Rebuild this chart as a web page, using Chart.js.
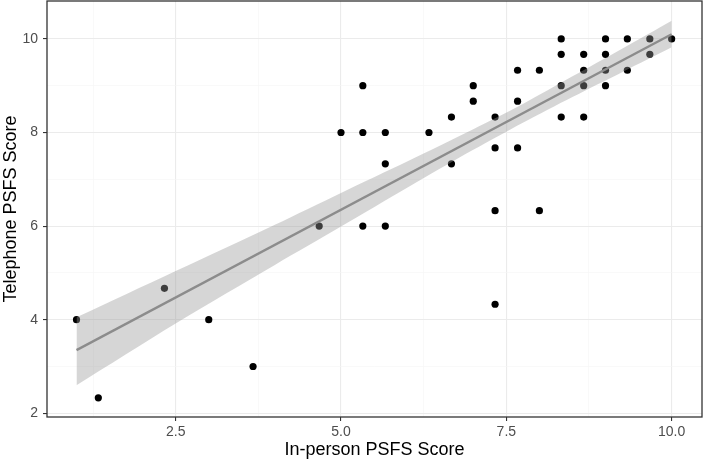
<!DOCTYPE html>
<html>
<head>
<meta charset="utf-8">
<script src="https://cdn.jsdelivr.net/npm/chart.js@4.4.0/dist/chart.umd.min.js"></script>
<style>
  html, body { margin: 0; padding: 0; background: #fff; }
  #wrap { width: 703px; height: 461px; position: relative; }
</style>
</head>
<body>
<div id="wrap"><canvas id="psfs"></canvas></div>
<script>
// in-person vs telephone PSFS scores
const inPerson = [1, 1.33, 2.33, 3, 3.67, 4.67, 5, 5.33, 5.33, 5.33, 5.67, 5.67, 5.67, 6.33, 6.67, 6.67,
  7, 7, 7.33, 7.33, 7.33, 7.33, 7.67, 7.67, 7.67, 8, 8, 8.33, 8.33, 8.33, 8.33,
  8.67, 8.67, 8.67, 8.67, 9, 9, 9, 9, 9.33, 9.33, 9.67, 9.67, 10];
const telephone = [4, 2.33, 4.67, 4, 3, 6, 8, 9, 8, 6, 8, 7.33, 6, 8, 8.33, 7.33,
  9, 8.67, 8.33, 7.67, 6.33, 4.33, 9.33, 8.67, 7.67, 9.33, 6.33, 10, 9.67, 9, 8.33,
  9.67, 9.33, 9, 8.33, 10, 9.67, 9.33, 9, 10, 9.33, 10, 9.67, 10];

// fitted line and its confidence band
const fitX = [1, 10];
const fitY = [3.35, 10.1];
const bandX = [1, 2.5, 4, 5, 6, 7, 7.75, 8.5, 9.25, 10];
const bandLow = [2.60, 3.92, 5.17, 5.99, 6.82, 7.63, 8.21, 8.76, 9.29, 9.82];
const bandHigh = [4.05, 5.04, 6.03, 6.71, 7.38, 8.07, 8.61, 9.20, 9.79, 10.39];

// axes
const xMajor = [2.5, 5, 7.5, 10];
const xMajorLabels = ['2.5', '5.0', '7.5', '10.0'];
const xMinor = [1.25, 3.75, 6.25, 8.75];
const yMajor = [2, 4, 6, 8, 10];
const yMajorLabels = ['2', '4', '6', '8', '10'];
const yMinor = [3, 5, 7, 9];

const xy = (xs, ys) => xs.map((x, i) => ({ x: x, y: ys[i] }));

function gridTicks(major, minor) {
  return major.concat(minor).sort((a, b) => a - b).map(v => ({ value: v }));
}

function labelFor(major, labels) {
  return function (value) {
    const i = major.indexOf(value);
    return i < 0 ? '' : labels[i];
  };
}

function gridOpts(major) {
  return {
    color: ctx => major.includes(ctx.tick.value) ? '#ebebeb' : '#f5f5f5',
    lineWidth: ctx => major.includes(ctx.tick.value) ? 1.1 : 0.6,
    tickColor: ctx => major.includes(ctx.tick.value) ? '#333333' : 'rgba(0,0,0,0)',
    tickLength: 4,
    tickWidth: 1.1
  };
}

// no auto padding from the tick labels, the panel fills the canvas like ggplot
function fixAxis(size) {
  return s => {
    if (s.isHorizontal()) s.height = size; else s.width = size;
    s.paddingTop = 0; s.paddingBottom = 0; s.paddingLeft = 0; s.paddingRight = 0;
  };
}

// ggplot style panel border
const panelBorder = {
  id: 'panelBorder',
  afterDraw(chart) {
    const a = chart.chartArea;
    const c = chart.ctx;
    c.save();
    c.strokeStyle = '#333333';
    c.lineWidth = 1.3;
    c.strokeRect(a.left, a.top, a.right - a.left, a.bottom - a.top);
    c.restore();
  }
};

Chart.defaults.font.family = '"Liberation Sans", Arial, sans-serif';

new Chart(document.getElementById('psfs'), {
  type: 'scatter',
  data: {
    datasets: [
      {
        label: 'fit',
        data: xy(fitX, fitY),
        showLine: true,
        borderColor: '#8c8c8c',
        borderWidth: 2.3,
        pointRadius: 0,
        order: 0
      },
      {
        label: 'upper',
        data: xy(bandX, bandHigh),
        showLine: true,
        borderWidth: 0,
        borderColor: 'rgba(0,0,0,0)',
        pointRadius: 0,
        fill: '+1',
        backgroundColor: 'rgba(153,153,153,0.4)',
        tension: 0.3,
        order: 1
      },
      {
        label: 'lower',
        data: xy(bandX, bandLow),
        showLine: true,
        borderWidth: 0,
        borderColor: 'rgba(0,0,0,0)',
        pointRadius: 0,
        fill: false,
        tension: 0.3,
        order: 2
      },
      {
        label: 'scores',
        data: xy(inPerson, telephone),
        pointRadius: 3.6,
        pointBackgroundColor: '#000',
        pointBorderWidth: 0,
        order: 3
      }
    ]
  },
  options: {
    responsive: true,
    maintainAspectRatio: false,
    animation: false,
    layout: { autoPadding: false, padding: { top: 1, right: 1, left: 0, bottom: 0 } },
    plugins: { legend: { display: false }, tooltip: { enabled: false } },
    scales: {
      x: {
        type: 'linear',
        min: 0.554,
        max: 10.459,
        afterBuildTicks: s => { s.ticks = gridTicks(xMajor, xMinor); },
        afterFit: fixAxis(44),
        grid: gridOpts(xMajor),
        border: { display: false },
        ticks: {
          callback: labelFor(xMajor, xMajorLabels),
          color: '#4d4d4d',
          font: { size: 14 },
          padding: 3,
          maxRotation: 0,
          autoSkip: false
        },
        title: {
          display: true,
          text: 'In-person PSFS Score',
          color: '#000',
          font: { size: 18 },
          padding: { top: 0, bottom: 0 }
        }
      },
      y: {
        type: 'linear',
        min: 1.921,
        max: 10.81,
        afterBuildTicks: s => { s.ticks = gridTicks(yMajor, yMinor); },
        afterFit: fixAxis(47),
        grid: gridOpts(yMajor),
        border: { display: false },
        ticks: {
          callback: labelFor(yMajor, yMajorLabels),
          color: '#4d4d4d',
          font: { size: 14 },
          padding: 5,
          autoSkip: false
        },
        title: {
          display: true,
          text: 'Telephone PSFS Score',
          color: '#000',
          font: { size: 18 },
          padding: { top: 0, bottom: 0 }
        }
      }
    }
  },
  plugins: [panelBorder]
});
</script>
</body>
</html>
